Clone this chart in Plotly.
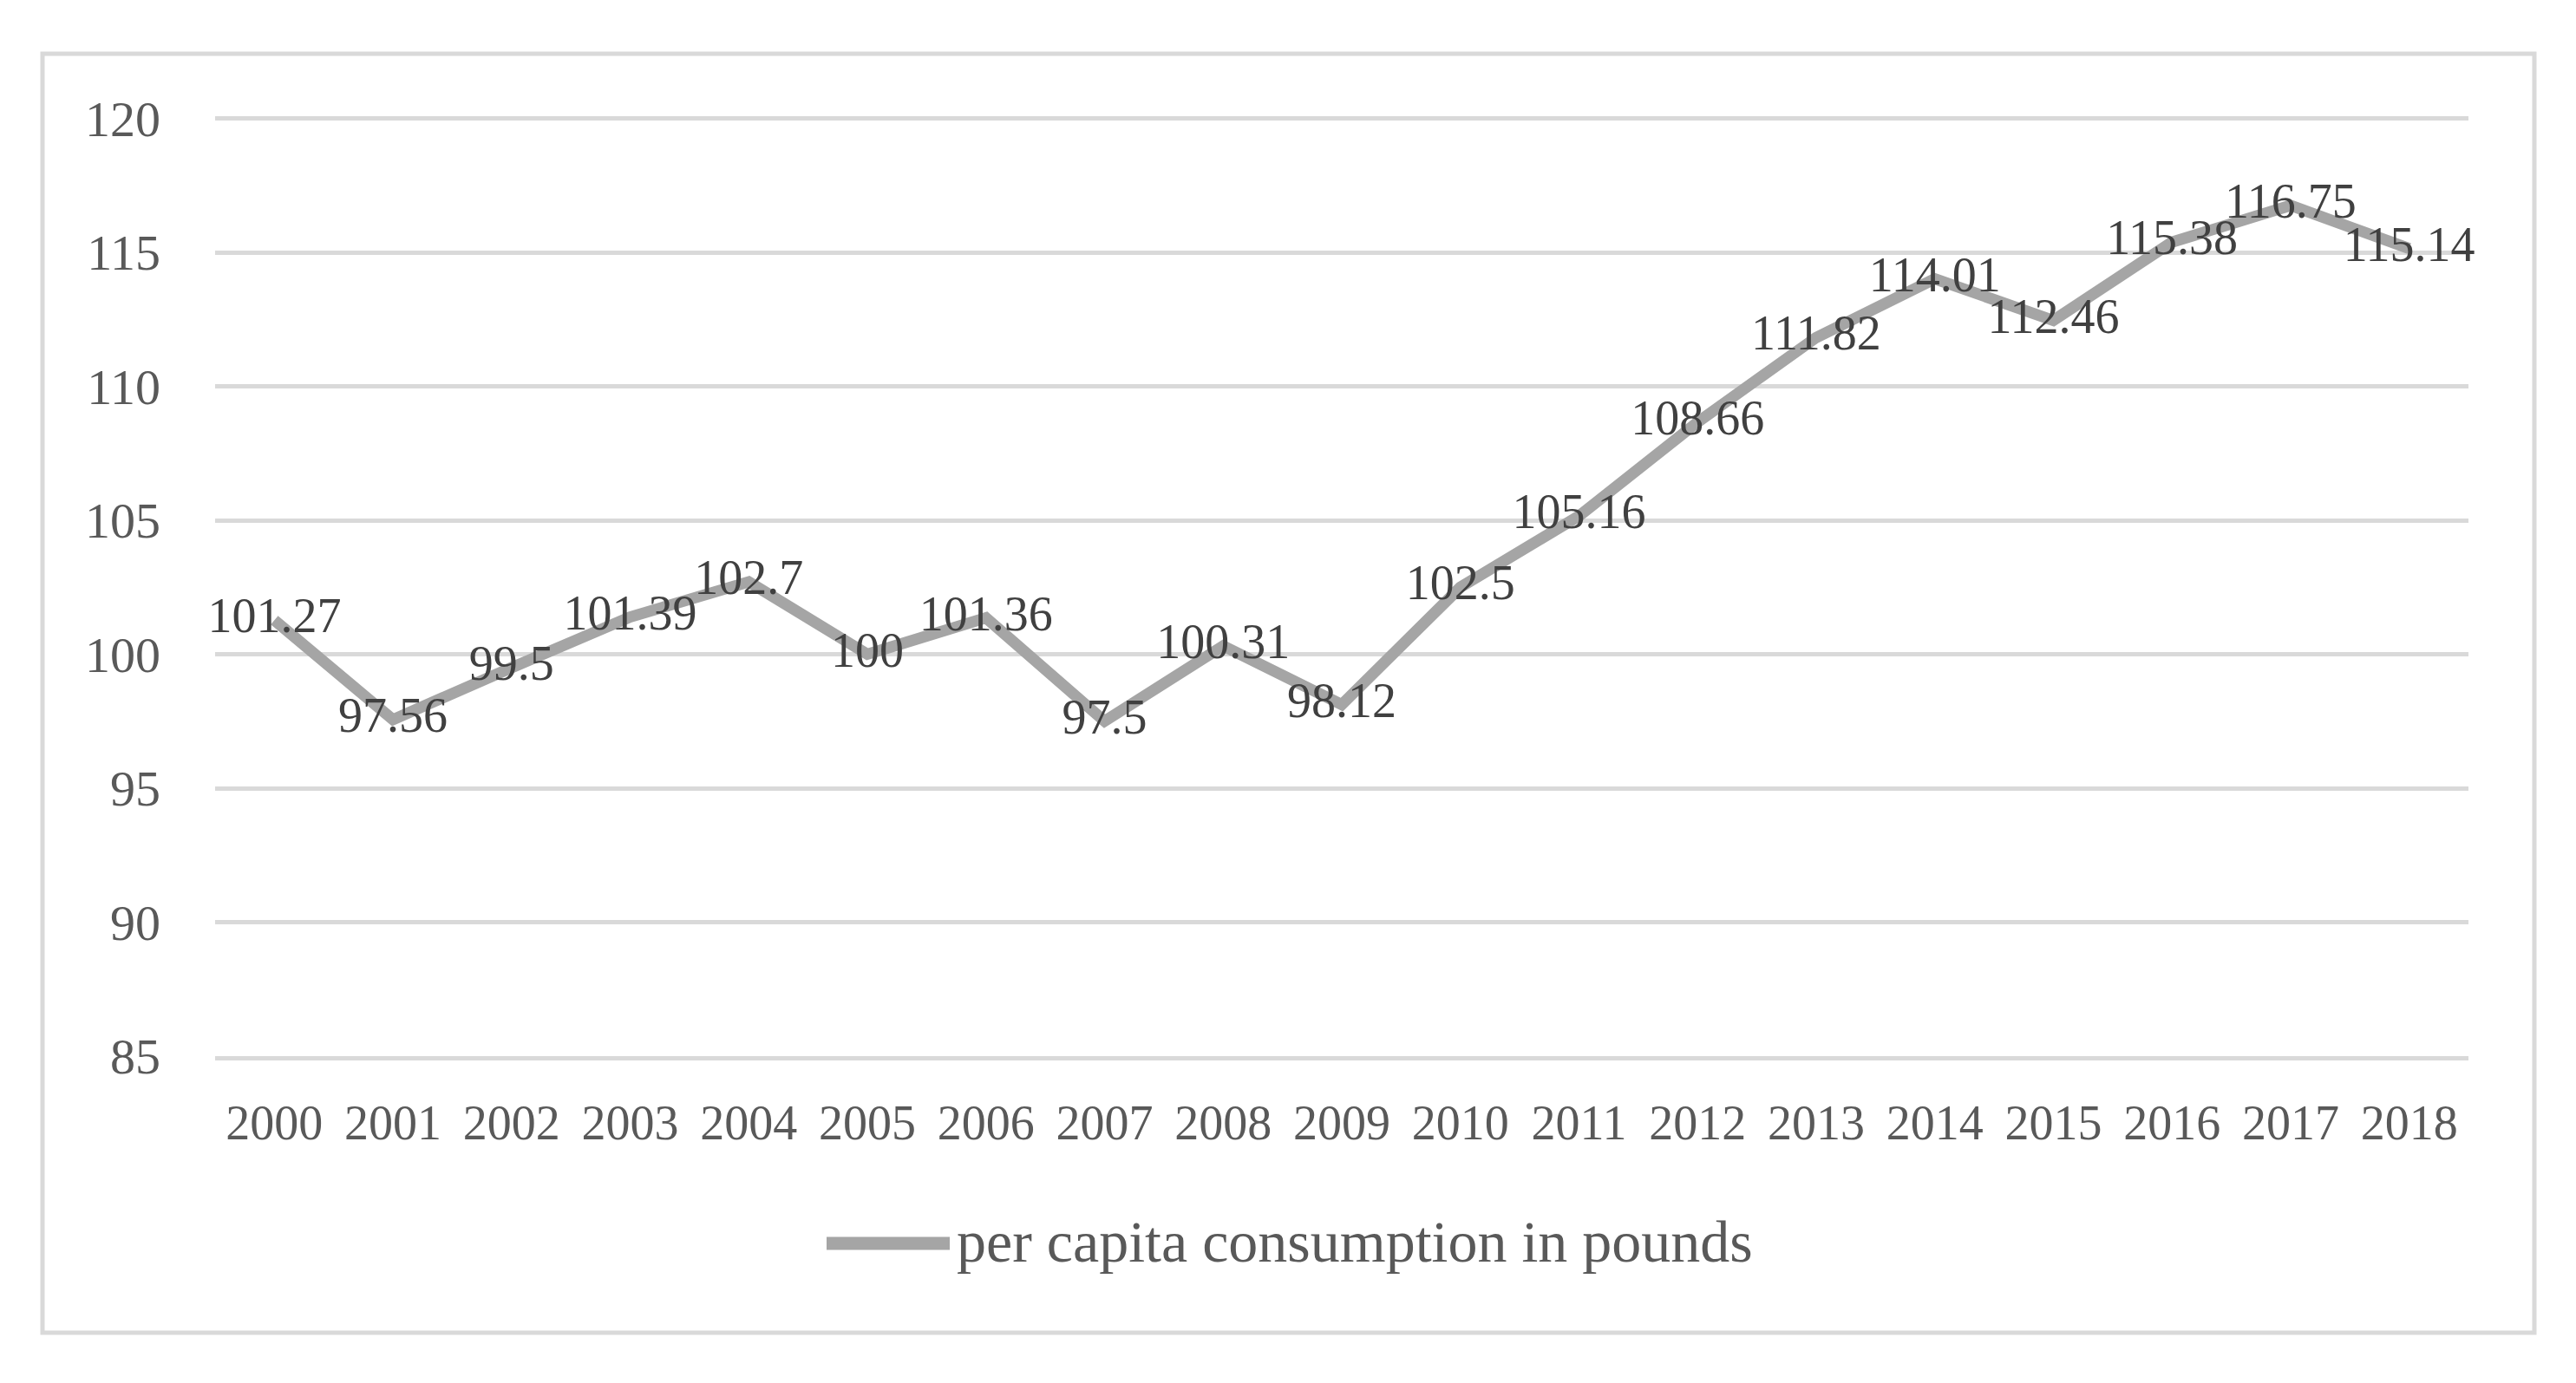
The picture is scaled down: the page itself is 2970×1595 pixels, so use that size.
import plotly.graph_objects as go

years = [str(y) for y in range(2000, 2019)]
consumption = [101.27, 97.56, 99.5, 101.39, 102.7, 100, 101.36, 97.5, 100.31, 98.12,
               102.5, 105.16, 108.66, 111.82, 114.01, 112.46, 115.38, 116.75, 115.14]
labels = ["101.27", "97.56", "99.5", "101.39", "102.7", "100", "101.36", "97.5", "100.31", "98.12",
          "102.5", "105.16", "108.66", "111.82", "114.01", "112.46", "115.38", "116.75", "115.14"]
series_name = "per capita consumption in pounds"
y_ticks = [85, 90, 95, 100, 105, 110, 115, 120]

OFF = 8  # default page body margin
W, H = 2970 - 2 * OFF, 1595 - 2 * OFF
Y_MIN, Y_MAX = 85, 120.05
# target screen positions, converted to figure pixels
PL, PR, PT, PB = 248 - OFF, 2846 - OFF, 135 - OFF, 1218 - OFF
FONT = "Liberation Serif"
LINE_COLOR = "#A5A5A5"
GRID_COLOR = "#D9D9D9"

fig = go.Figure()
fig.add_trace(go.Scatter(
    x=years, y=consumption, mode="lines+text", name=series_name,
    text=labels, textposition="middle center",
    textfont=dict(family=FONT, size=56, color="#404040"),
    line=dict(color=LINE_COLOR, width=13),
    cliponaxis=False, showlegend=False,
))

pw, ph = PR - PL, PB - PT
def px_x(p):
    return (p - OFF - PL) / pw
def px_y(p):
    return (PB - (p - OFF)) / ph

# chart border
fig.add_shape(type="rect", xref="paper", yref="paper",
              x0=px_x(49), x1=px_x(2922), y0=px_y(1537), y1=px_y(62),
              line=dict(color=GRID_COLOR, width=5), fillcolor="rgba(0,0,0,0)", layer="below")

# legend (sample line + label)
fig.add_shape(type="line", xref="paper", yref="paper",
              x0=px_x(953), x1=px_x(1095), y0=px_y(1434), y1=px_y(1434),
              line=dict(color=LINE_COLOR, width=15))
fig.add_annotation(xref="paper", yref="paper", x=px_x(1101), y=px_y(1432),
                   xanchor="left", yanchor="middle", showarrow=False,
                   text=series_name,
                   font=dict(family=FONT, size=68, color="#595959"))

fig.update_layout(
    width=W, height=H,
    margin=dict(l=PL, r=W - PR, t=PT, b=H - PB, autoexpand=False),
    paper_bgcolor="white", plot_bgcolor="white",
    font=dict(family=FONT, color="#595959", size=56),
    showlegend=False,
    xaxis=dict(type="category", range=[-0.5, len(years) - 0.5],
               showgrid=False, showline=True, linecolor=GRID_COLOR, linewidth=5,
               ticks="", tickfont=dict(family=FONT, size=56, color="#595959"),
               ticklabelstandoff=24, zeroline=False),
    yaxis=dict(range=[Y_MIN, Y_MAX], tickvals=y_ticks, showgrid=True, gridcolor=GRID_COLOR, gridwidth=5,
               zeroline=False, showline=False, ticks="",
               tickfont=dict(family=FONT, size=58, color="#595959"),
               ticklabelstandoff=62),
)

fig.write_html("out.html")
